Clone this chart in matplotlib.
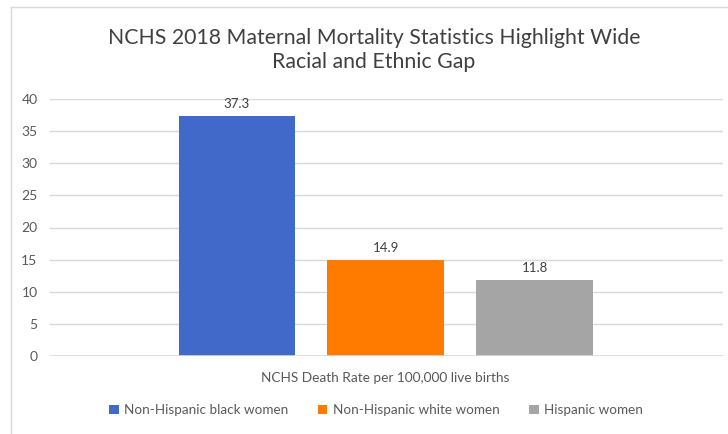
import matplotlib.pyplot as plt
from matplotlib.lines import Line2D

series = ['Non-Hispanic black women', 'Non-Hispanic white women', 'Hispanic women']
values = [37.3, 14.9, 11.8]
colors = ['#4169c9', '#ff7b00', '#a5a5a5']
category = 'NCHS Death Rate per 100,000 live births'
title = 'NCHS 2018 Maternal Mortality Statistics Highlight Wide\nRacial and Ethnic Gap'

plt.rcParams['font.family'] = ['Lato', 'DejaVu Sans']
txt = '#595959'

fig = plt.figure(figsize=(7.28, 4.34), dpi=100)
W, H = 728, 434
ax = fig.add_axes([50 / W, 78 / H, 673 / W, (356 - 99) / H])

pos = [-1, 0, 1]
bars = ax.bar(pos, values, width=0.785, color=colors, label=series, zorder=3)
for b, v in zip(bars, values):
    ax.text(b.get_x() + b.get_width() / 2, v + 1.0, f'{v}', ha='center', va='bottom',
            fontsize=9.5, color='#404040')

ax.set_xlim(-2.255, 2.262)
ax.set_ylim(0, 40)
ax.set_yticks(range(0, 41, 5))
ax.set_xticks([])
ax.grid(axis='y', color='#d9d9d9', linewidth=1, zorder=0)
ax.tick_params(axis='y', length=0, pad=9, labelsize=10, labelcolor=txt)
for s in ax.spines.values():
    s.set_visible(False)
ax.axhline(0, color='#d9d9d9', linewidth=1.2, zorder=4)

fig.text(385 / W, 1 - 378 / H, category, ha='center', va='center', fontsize=9.8, color=txt)
fig.text(374 / W, 1 - 50 / H, title, ha='center', va='center', fontsize=15.3,
         color='#404040', linespacing=1.2)

fig.legend(handles=bars, labels=series, loc='center', bbox_to_anchor=(376 / W, 1 - 410 / H),
           ncol=3, frameon=False, fontsize=9.7, labelcolor=txt, handlelength=0.7,
           handleheight=0.7, handletextpad=0.4, columnspacing=2.2)

# chart border (top and left edges visible in the crop)
fig.add_artist(Line2D([11 / W, 1], [1 - 7 / H, 1 - 7 / H], color='#d9d9d9', linewidth=1))
fig.add_artist(Line2D([11 / W, 11 / W], [0, 1 - 7 / H], color='#d9d9d9', linewidth=1))

fig.savefig('out.png', dpi=100)
